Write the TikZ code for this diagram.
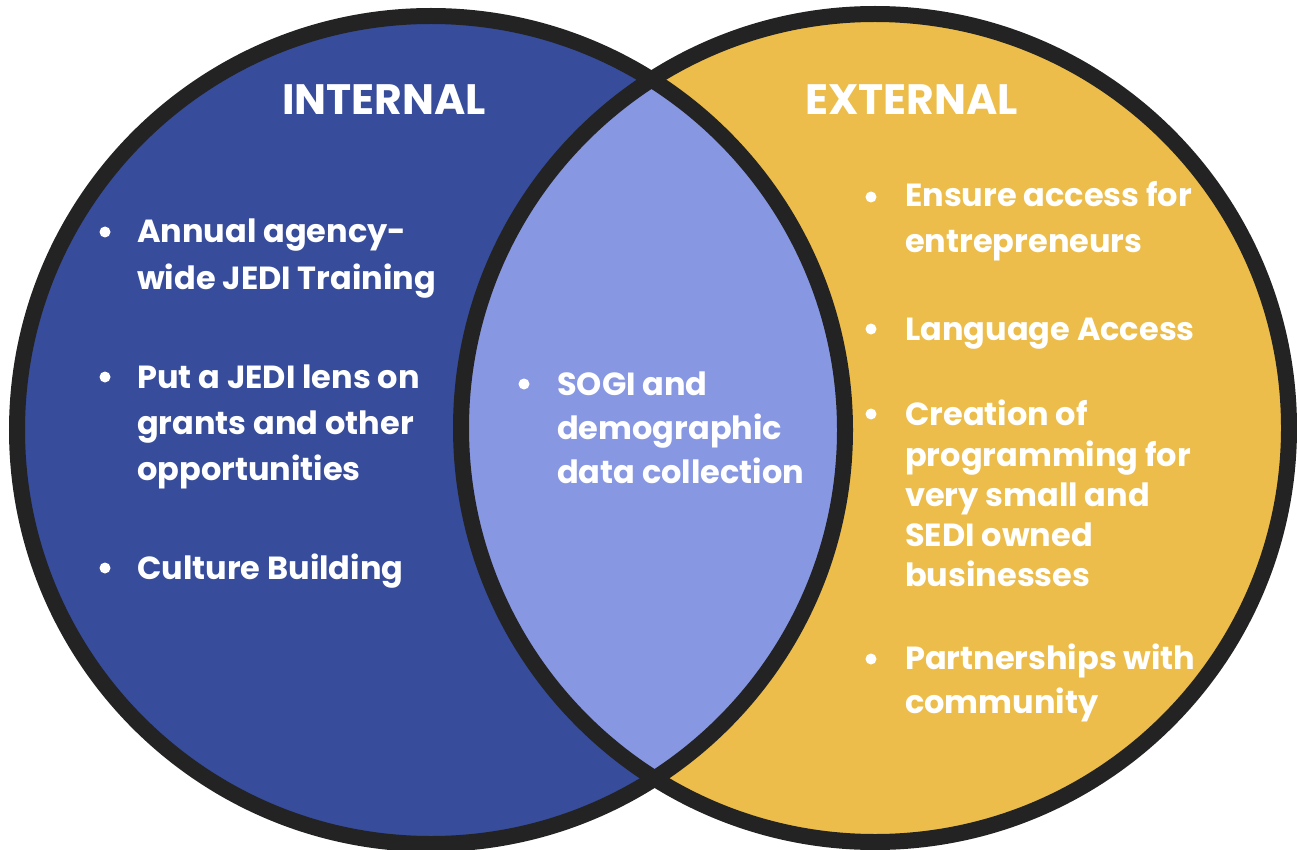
\documentclass[tikz,border=0pt]{standalone}
\usepackage{fontspec}
\setmainfont{Poppins}[BoldFont={Poppins Bold}]
\definecolor{cblue}{HTML}{374C9A}
\definecolor{cpurple}{HTML}{8897E2}
\definecolor{cyellow}{HTML}{ECBD4A}
\definecolor{cdark}{HTML}{232323}
\begin{document}
\begin{tikzpicture}[x=1pt,y=-1pt,
  txt/.style={anchor=base west,inner sep=0pt,text=white,font=\bfseries\fontsize{32}{38}\selectfont},
  ttl/.style={anchor=base west,inner sep=0pt,text=white,font=\bfseries\fontsize{42.5}{48}\selectfont},
  dot/.style={circle,fill=white,inner sep=0pt,minimum size=11pt}]
\useasboundingbox (0,0) rectangle (1297,850);
\coordinate (L) at (431,430);
\coordinate (R) at (875,428);
\fill[cblue] (L) circle[radius=414];
\fill[cyellow] (R) circle[radius=414];
\begin{scope}
  \clip (L) circle[radius=414];
  \fill[cpurple] (R) circle[radius=414];
\end{scope}
\draw[cdark,line width=16pt] (L) circle[radius=414];
\draw[cdark,line width=16pt] (R) circle[radius=414];

\node[ttl] (tint) at (282,115) {INTERNAL};
\node[ttl] (text) at (805,115) {EXTERNAL};

% left
\node[dot] (b1) at (105,232) {};
\node[txt] (l1a) at (137,243) {Annual agency-};
\node[txt] (l1b) at (137,289) {wide JEDI Training};
\node[dot] (b2) at (105,377) {};
\node[txt] (l2a) at (137,388) {Put a JEDI lens on};
\node[txt] (l2b) at (137,434) {grants and other};
\node[txt] (l2c) at (137,480) {opportunities};
\node[dot] (b3) at (105,568) {};
\node[txt] (l3a) at (137,579) {Culture Building};

% middle
\node[dot] (b4) at (524,384) {};
\node[txt] (m1a) at (557,395) {SOGI and};
\node[txt] (m1b) at (557,439) {demographic};
\node[txt] (m1c) at (557,483) {data collection};

% right
\node[dot] (b5) at (871,197) {};
\node[txt] (r1a) at (905,207) {Ensure access for};
\node[txt] (r1b) at (905,252) {entrepreneurs};
\node[dot] (b6) at (871,329) {};
\node[txt] (r2a) at (905,340) {Language Access};
\node[dot] (b7) at (871,414) {};
\node[txt] (r3a) at (905,425) {Creation of};
\node[txt] (r3b) at (905,466) {programming for};
\node[txt] (r3c) at (905,506) {very small and};
\node[txt] (r3d) at (905,546) {SEDI owned};
\node[txt] (r3e) at (905,586) {businesses};
\node[dot] (b8) at (871,659) {};
\node[txt] (r4a) at (905,669) {Partnerships with};
\node[txt] (r4b) at (905,713) {community};
\end{tikzpicture}
\end{document}
